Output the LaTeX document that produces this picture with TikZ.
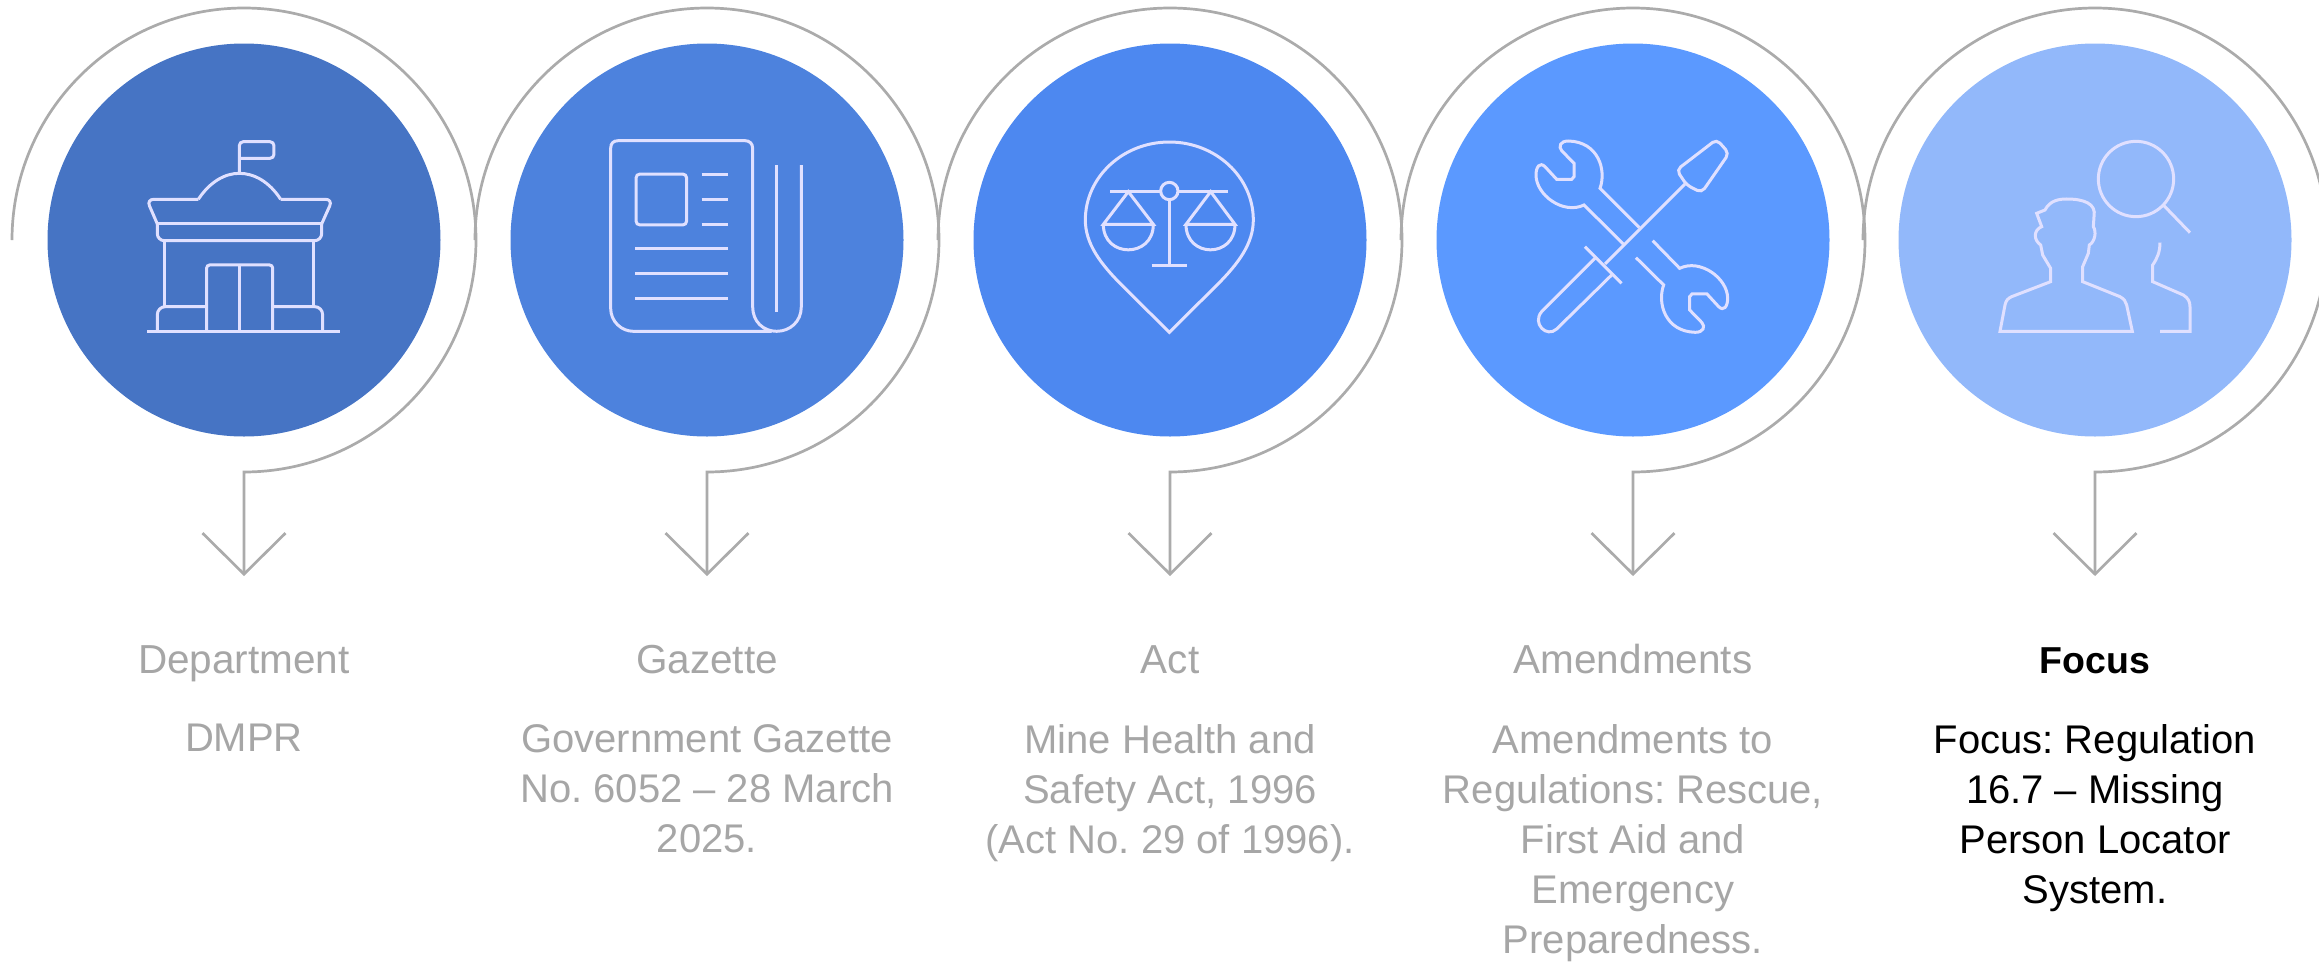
\documentclass[tikz,border=0pt]{standalone}
\usepackage{fontspec}
\setmainfont{Liberation Sans}
\usepackage{xcolor}
\usetikzlibrary{arrows.meta}
\definecolor{discA}{HTML}{4674C4}
\definecolor{discB}{HTML}{4D82DD}
\definecolor{discC}{HTML}{4D88F0}
\definecolor{discD}{HTML}{5B99FF}
\definecolor{discE}{HTML}{92B8FA}
\definecolor{ringgray}{HTML}{ABABAB}
\definecolor{textgray}{HTML}{A6A6A6}
\tikzset{
	disc/.style = {
			circle,
			inner sep = 0pt,
			minimum size = 393pt,
		},
	ringline/.style = {
			draw = ringgray,
			line width = 2.7pt,
			-{Straight Barb[length=41pt,width=83pt]},
		},
	iconlines/.style = {
			draw = white!88!blue,
			line width = 3pt,
			x = 0.3333pt,
			y = -0.3333pt,
		},
	titletext/.style = {
			text = textgray,
			font = \fontsize{40.5pt}{50pt}\selectfont,
			align = center,
			anchor = base,
			inner sep = 0pt,
		},
	bodytext/.style = {
			text = textgray,
			font = \fontsize{40pt}{50pt}\selectfont\frenchspacing,
			align = center,
			anchor = north,
			inner sep = 0pt,
		},
}

\begin{document}
\begin{tikzpicture}[x=1pt,y=1pt]
	\useasboundingbox (0,-962) rectangle (2319,0);

	% discs
	\node[disc,fill=discA] (dept) at (244,-240) {};
	\node[disc,fill=discB] (gazette) at (707,-240) {};
	\node[disc,fill=discC] (act) at (1170,-240) {};
	\node[disc,fill=discD] (amend) at (1633,-240) {};
	\node[disc,fill=discE] (focus) at (2095,-240) {};

	% arrow ends
	\coordinate (tipdept) at (244,-576);
	\coordinate (tipgazette) at (707,-576);
	\coordinate (tipact) at (1170,-576);
	\coordinate (tipamend) at (1633,-576);
	\coordinate (tipfocus) at (2095,-576);

	% rings
	\begin{scope}
		\clip (0,-962) rectangle (2319,0);
		\draw[ringline] (12,-240) arc[start angle=180,end angle=-90,radius=232pt] -- (tipdept);
		\draw[ringline] (475,-240) arc[start angle=180,end angle=-90,radius=232pt] -- (tipgazette);
		\draw[ringline] (938,-240) arc[start angle=180,end angle=-90,radius=232pt] -- (tipact);
		\draw[ringline] (1401,-240) arc[start angle=180,end angle=-90,radius=232pt] -- (tipamend);
		\draw[ringline] (1863,-240) arc[start angle=180,end angle=-90,radius=232pt] -- (tipfocus);
	\end{scope}

	% building
	\begin{scope}[shift={(130pt,-120pt)},iconlines]
		\draw[rounded corners=4pt] (328,158) -- (328,65) -- (432,65) -- (432,115) -- (328,115);
		\draw (205,238) .. controls (240,185) and (285,160) .. (328,160) .. controls (372,160) and (418,185) .. (452,238);
		\draw[rounded corners=7pt] (205,238) -- (50,238) -- (82,312);
		\draw[rounded corners=7pt] (452,238) -- (608,238) -- (575,312);
		\draw (82,312) -- (575,312);
		\draw[rounded corners=7pt] (82,312) -- (82,362) -- (575,362) -- (575,312);
		\draw (105,362) -- (105,560) (552,362) -- (552,560);
		\draw[rounded corners=3pt] (230,634) -- (230,435) -- (428,435) -- (428,634);
		\draw (328,435) -- (328,634);
		\draw[rounded corners=8pt] (82,634) -- (82,560) -- (230,560);
		\draw[rounded corners=8pt] (428,560) -- (578,560) -- (578,634);
		\draw (52,634) -- (630,634);
	\end{scope}

	% newspaper
	\begin{scope}[shift={(590pt,-120pt)},iconlines]
		\draw (634,135) -- (634,560) .. controls (634,605) and (600,634) .. (560,634) .. controls (520,634) and (488,605) .. (488,560) -- (488,85) .. controls (488,70) and (478,62) .. (465,62) -- (85,62) .. controls (70,62) and (62,70) .. (62,85) -- (62,565) .. controls (62,605) and (95,634) .. (130,634) -- (545,634);
		\draw (560,135) -- (560,575);
		\draw[rounded corners=4pt] (138,162) rectangle (290,315);
		\draw (335,164) -- (415,164) (335,238) -- (415,238) (335,313) -- (415,313);
		\draw (135,387) -- (415,387) (135,462) -- (415,462) (135,536) -- (415,536);
	\end{scope}

	% pin with scales
	\begin{scope}[shift={(1050pt,-170pt)},iconlines]
		\draw (358,487) -- (215,345) .. controls (150,280) and (106,220) .. (106,150) .. controls (106,21) and (219,-84) .. (358,-84) .. controls (497,-84) and (610,21) .. (610,150) .. controls (610,220) and (566,280) .. (501,345) -- cycle;
		\draw (180,63) -- (332,63) (384,63) -- (535,63);
		\draw (358,63) circle[radius=26];
		\draw (358,89) -- (358,287) (305,287) -- (410,287);
		\draw (160,163) -- (235,65) -- (310,163) -- cycle;
		\draw (160,163) .. controls (160,265) and (310,265) .. (310,163);
		\draw (408,163) -- (482,65) -- (555,163) -- cycle;
		\draw (408,163) .. controls (408,265) and (555,265) .. (555,163);
	\end{scope}

	% tools
	\begin{scope}[shift={(1510pt,-120pt)},iconlines]
		\draw[rounded corners=5pt] (500,150) -- (620,58) -- (657,100) -- (575,218) -- (530,195) -- cycle;
		\draw (525,192) -- (285,432);
		\draw (225,380) -- (335,490);
		\draw (258,412) -- (95,575) .. controls (65,610) and (110,655) .. (140,627) -- (305,465);
		\draw (388,323) -- (270,205) .. controls (290,150) and (265,65) .. (175,63) .. controls (150,63) and (145,80) .. (155,92) -- (192,130) -- (192,170) -- (185,178) -- (140,178) -- (105,140) .. controls (90,125) and (78,140) .. (78,165) .. controls (78,225) and (160,285) .. (222,255) -- (340,372);
		\draw (378,413) -- (461,495) .. controls (441,550) and (466,635) .. (556,637) .. controls (581,637) and (586,620) .. (576,608) -- (539,570) -- (539,530) -- (546,522) -- (591,522) -- (626,560) .. controls (641,575) and (653,560) .. (653,535) .. controls (653,475) and (571,415) .. (509,445) -- (428,362);
	\end{scope}

	% person and lens
	\begin{scope}[shift={(1970pt,-120pt)},iconlines]
		\draw (498,177) circle[radius=113];
		\draw (580,255) -- (660,338);
		\draw (90,634) -- (105,555) .. controls (108,540) and (115,535) .. (125,530) -- (242,485) -- (242,445) -- (218,405) -- (212,375) .. controls (190,360) and (190,330) .. (215,320) -- (200,280) -- (225,270) .. controls (240,240) and (270,237) .. (290,237) .. controls (340,237) and (380,250) .. (372,290) -- (370,320) .. controls (380,335) and (375,365) .. (358,375) -- (355,400) -- (338,440) -- (338,485) -- (450,530) .. controls (462,537) and (468,545) .. (470,555) -- (487,634) -- cycle;
		\draw (570,368) .. controls (570,395) and (562,415) .. (548,435) -- (548,485) -- (640,525) .. controls (655,535) and (660,545) .. (660,560) -- (660,634) -- (570,634);
	\end{scope}

	% titles
	\node[titletext] (depttitle) at (244,-673) {Department};
	\node[titletext] (gazettetitle) at (707,-673) {Gazette};
	\node[titletext] (acttitle) at (1170,-673) {Act};
	\node[titletext] (amendtitle) at (1633,-673) {Amendments};
	\node[titletext,text=black,font=\fontsize{37.5pt}{50pt}\selectfont\bfseries] (focustitle) at (2095,-673) {Focus};

	% body text
	\node[bodytext] (deptbody) at (244,-724) {DMPR};
	\node[bodytext] (gazettebody) at (707,-724) {Government Gazette\\No. 6052 -- 28 March\\2025.};
	\node[bodytext] (actbody) at (1170,-724) {Mine Health and\\Safety Act, 1996\\(Act No. 29 of 1996).};
	\node[bodytext] (amendbody) at (1633,-724) {Amendments to\\Regulations: Rescue,\\First Aid and\\Emergency\\Preparedness.};
	\node[bodytext,text=black] (focusbody) at (2095,-724) {Focus: Regulation\\16.7 -- Missing\\Person Locator\\System.};
\end{tikzpicture}
\end{document}
